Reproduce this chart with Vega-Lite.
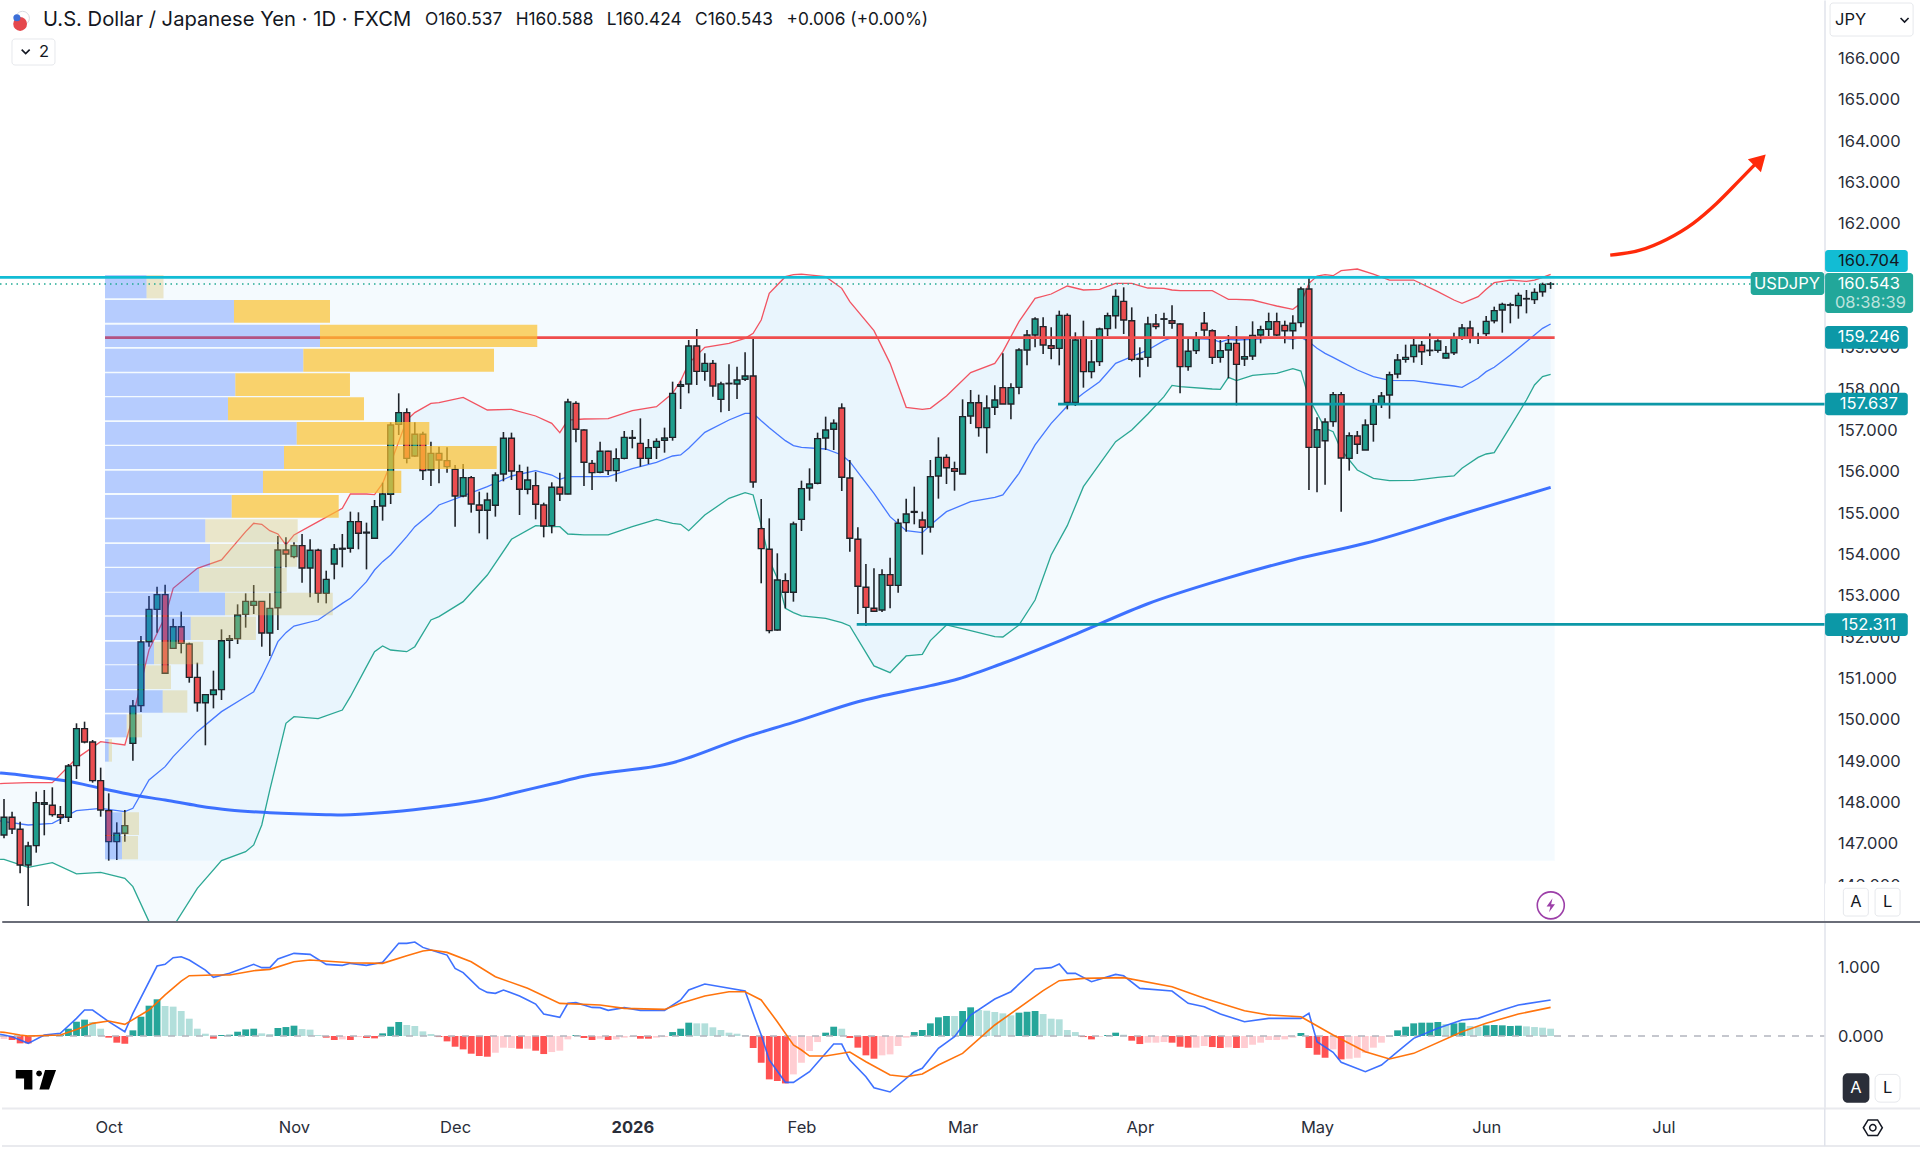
{
"$schema":"https://vega.github.io/schema/vega-lite/v6.json",
"padding":0,"background":"white","spacing":0,"bounds":"flush",
"config":{"font":"Inter","view":{"stroke":null}},
"datasets":{
"candles":[
{"i":0,"o":147.217,"h":148.088,"l":147.137,"c":147.645},{"i":1,"o":147.645,"h":147.782,"l":147.242,"c":147.363},{"i":2,"o":147.355,"h":147.54,"l":146.291,"c":146.492},{"i":3,"o":146.492,"h":147.056,"l":145.501,"c":146.952},{"i":4,"o":146.96,"h":148.265,"l":146.79,"c":147.999},{"i":5,"o":147.96,"h":148.306,"l":147.209,"c":148.0},{"i":6,"o":147.935,"h":148.37,"l":147.661,"c":147.709},{"i":7,"o":147.709,"h":147.919,"l":147.483,"c":147.645},{"i":8,"o":147.645,"h":148.934,"l":147.532,"c":148.886},{"i":9,"o":148.894,"h":149.918,"l":148.572,"c":149.789},
{"i":10,"o":149.789,"h":149.958,"l":149.434,"c":149.466},{"i":11,"o":149.466,"h":149.515,"l":148.483,"c":148.531},{"i":12,"o":148.531,"h":148.846,"l":147.661,"c":147.822},{"i":13,"o":147.806,"h":148.225,"l":146.597,"c":147.056},{"i":14,"o":147.056,"h":147.524,"l":146.613,"c":147.258},{"i":15,"o":147.258,"h":147.822,"l":147.056,"c":147.443},{"i":16,"o":149.434,"h":150.482,"l":149.015,"c":150.337},{"i":17,"o":150.345,"h":152.029,"l":150.192,"c":151.884},{"i":18,"o":151.892,"h":152.997,"l":151.771,"c":152.674},{"i":19,"o":152.674,"h":153.222,"l":152.11,"c":153.029},
{"i":20,"o":153.029,"h":153.271,"l":151.11,"c":151.127},{"i":21,"o":151.731,"h":152.448,"l":151.731,"c":152.255},{"i":22,"o":152.255,"h":152.618,"l":151.61,"c":151.852},{"i":23,"o":151.836,"h":151.868,"l":150.901,"c":151.03},{"i":24,"o":151.03,"h":151.385,"l":150.2,"c":150.417},{"i":25,"o":150.417,"h":150.627,"l":149.386,"c":150.611},{"i":26,"o":150.611,"h":151.191,"l":150.28,"c":150.724},{"i":27,"o":150.732,"h":152.191,"l":150.482,"c":151.916},{"i":28,"o":151.925,"h":152.054,"l":151.489,"c":151.965},{"i":29,"o":151.965,"h":152.795,"l":151.836,"c":152.537},
{"i":30,"o":152.553,"h":153.061,"l":152.231,"c":152.868},{"i":31,"o":152.771,"h":153.262,"l":152.561,"c":152.868},{"i":32,"o":152.868,"h":152.868,"l":151.771,"c":152.102},{"i":33,"o":152.102,"h":153.061,"l":151.546,"c":152.698},{"i":34,"o":152.714,"h":154.447,"l":152.174,"c":154.109},{"i":35,"o":154.11,"h":154.416,"l":153.69,"c":154.013},{"i":36,"o":153.949,"h":154.295,"l":153.908,"c":154.215},{"i":37,"o":154.215,"h":154.497,"l":153.319,"c":153.674},{"i":38,"o":153.674,"h":154.368,"l":152.964,"c":154.102},{"i":39,"o":154.102,"h":154.142,"l":152.835,"c":153.061},
{"i":40,"o":153.061,"h":153.609,"l":152.819,"c":153.4},{"i":41,"o":153.77,"h":154.255,"l":153.4,"c":154.134},{"i":42,"o":154.13,"h":154.497,"l":153.69,"c":154.15},{"i":43,"o":154.15,"h":155.037,"l":154.045,"c":154.795},{"i":44,"o":154.795,"h":155.021,"l":154.126,"c":154.513},{"i":45,"o":154.52,"h":154.771,"l":153.641,"c":154.54},{"i":46,"o":154.392,"h":155.319,"l":154.392,"c":155.158},{"i":47,"o":155.174,"h":155.738,"l":154.819,"c":155.464},{"i":48,"o":155.456,"h":157.197,"l":155.222,"c":157.132},{"i":49,"o":157.148,"h":157.898,"l":156.89,"c":157.431},
{"i":50,"o":157.431,"h":157.535,"l":156.205,"c":156.326},{"i":51,"o":156.383,"h":157.197,"l":156.367,"c":156.907},{"i":52,"o":156.907,"h":156.971,"l":155.802,"c":156.028},{"i":53,"o":156.044,"h":156.729,"l":155.657,"c":156.447},{"i":54,"o":156.447,"h":156.608,"l":155.722,"c":156.286},{"i":55,"o":156.27,"h":156.592,"l":155.98,"c":156.125},{"i":56,"o":156.06,"h":156.165,"l":154.674,"c":155.416},{"i":57,"o":155.416,"h":156.189,"l":155.383,"c":155.859},{"i":58,"o":155.859,"h":155.899,"l":155.013,"c":155.222},{"i":59,"o":155.198,"h":155.52,"l":154.513,"c":155.069},
{"i":60,"o":155.069,"h":155.496,"l":154.368,"c":155.319},{"i":61,"o":155.19,"h":155.988,"l":154.916,"c":155.923},{"i":62,"o":155.947,"h":156.963,"l":155.77,"c":156.81},{"i":63,"o":156.81,"h":156.947,"l":155.802,"c":156.02},{"i":64,"o":156.004,"h":156.173,"l":154.956,"c":155.577},{"i":65,"o":155.577,"h":156.125,"l":155.456,"c":155.802},{"i":66,"o":155.665,"h":155.996,"l":154.851,"c":155.214},{"i":67,"o":155.198,"h":155.254,"l":154.416,"c":154.69},{"i":68,"o":154.698,"h":155.746,"l":154.513,"c":155.625},{"i":69,"o":155.625,"h":155.98,"l":155.295,"c":155.464},
{"i":70,"o":155.464,"h":157.769,"l":155.456,"c":157.688},{"i":71,"o":157.656,"h":157.705,"l":156.713,"c":157.028},{"i":72,"o":157.011,"h":157.028,"l":155.657,"c":156.23},{"i":73,"o":156.205,"h":156.286,"l":155.561,"c":155.98},{"i":74,"o":155.988,"h":156.729,"l":155.964,"c":156.496},{"i":75,"o":156.496,"h":156.512,"l":155.923,"c":156.028},{"i":76,"o":156.028,"h":156.568,"l":155.762,"c":156.318},{"i":77,"o":156.326,"h":156.987,"l":156.302,"c":156.834},{"i":78,"o":156.81,"h":157.011,"l":156.568,"c":156.83},{"i":79,"o":156.689,"h":157.293,"l":156.125,"c":156.326},
{"i":80,"o":156.326,"h":156.794,"l":156.189,"c":156.584},{"i":81,"o":156.592,"h":156.81,"l":156.31,"c":156.737},{"i":82,"o":156.762,"h":157.068,"l":156.463,"c":156.818},{"i":83,"o":156.834,"h":158.18,"l":156.753,"c":157.898},{"i":84,"o":158.067,"h":158.204,"l":157.519,"c":158.107},{"i":85,"o":158.124,"h":159.188,"l":157.898,"c":159.043},{"i":86,"o":159.043,"h":159.454,"l":158.099,"c":158.43},{"i":87,"o":158.43,"h":158.865,"l":158.204,"c":158.623},{"i":88,"o":158.623,"h":158.704,"l":157.817,"c":158.075},{"i":89,"o":157.753,"h":158.18,"l":157.439,"c":158.124},
{"i":90,"o":158.13,"h":158.599,"l":157.471,"c":158.14},{"i":91,"o":158.124,"h":158.543,"l":157.761,"c":158.22},{"i":92,"o":158.237,"h":158.889,"l":158.196,"c":158.317},{"i":93,"o":158.317,"h":159.212,"l":155.617,"c":155.754},{"i":94,"o":154.626,"h":155.343,"l":153.304,"c":154.142},{"i":95,"o":154.126,"h":154.875,"l":152.095,"c":152.159},{"i":96,"o":152.175,"h":154.029,"l":152.159,"c":153.384},{"i":97,"o":153.368,"h":153.546,"l":152.699,"c":153.086},{"i":98,"o":153.086,"h":154.795,"l":152.86,"c":154.738},{"i":99,"o":154.851,"h":155.786,"l":154.569,"c":155.593},
{"i":100,"o":155.609,"h":156.084,"l":155.303,"c":155.706},{"i":101,"o":155.722,"h":156.947,"l":155.698,"c":156.802},{"i":102,"o":156.818,"h":157.334,"l":156.528,"c":157.011},{"i":103,"o":157.028,"h":157.269,"l":156.528,"c":157.173},{"i":104,"o":157.543,"h":157.656,"l":155.536,"c":155.867},{"i":105,"o":155.851,"h":156.286,"l":154.069,"c":154.392},{"i":106,"o":154.368,"h":154.658,"l":152.562,"c":153.231},{"i":107,"o":153.207,"h":153.771,"l":152.272,"c":152.723},{"i":108,"o":152.699,"h":153.666,"l":152.611,"c":152.627},{"i":109,"o":152.659,"h":153.642,"l":152.611,"c":153.513},
{"i":110,"o":153.513,"h":153.924,"l":152.699,"c":153.255},{"i":111,"o":153.255,"h":154.867,"l":153.078,"c":154.755},{"i":112,"o":154.771,"h":155.351,"l":154.553,"c":154.98},{"i":113,"o":155.02,"h":155.641,"l":154.73,"c":155.04},{"i":114,"o":154.835,"h":155.037,"l":153.997,"c":154.658},{"i":115,"o":154.666,"h":156.286,"l":154.529,"c":155.883},{"i":116,"o":155.899,"h":156.834,"l":155.351,"c":156.35},{"i":117,"o":156.35,"h":156.423,"l":155.706,"c":156.1},{"i":118,"o":156.076,"h":156.246,"l":155.544,"c":156.012},{"i":119,"o":155.947,"h":157.753,"l":155.947,"c":157.334},
{"i":120,"o":157.35,"h":157.979,"l":157.156,"c":157.672},{"i":121,"o":157.672,"h":157.866,"l":156.85,"c":157.068},{"i":122,"o":157.068,"h":157.85,"l":156.447,"c":157.543},{"i":123,"o":157.56,"h":158.091,"l":157.374,"c":157.737},{"i":124,"o":158.035,"h":158.865,"l":157.64,"c":157.64},{"i":125,"o":157.64,"h":158.14,"l":157.269,"c":158.035},{"i":126,"o":158.043,"h":158.986,"l":157.874,"c":158.946},{"i":127,"o":158.946,"h":159.429,"l":158.575,"c":159.308},{"i":128,"o":159.308,"h":159.736,"l":159.01,"c":159.695},{"i":129,"o":159.51,"h":159.736,"l":158.849,"c":159.067},
{"i":130,"o":159.05,"h":159.494,"l":158.72,"c":158.986},{"i":131,"o":158.986,"h":159.897,"l":158.575,"c":159.784},{"i":132,"o":159.784,"h":159.832,"l":157.511,"c":157.68},{"i":133,"o":157.68,"h":159.373,"l":157.592,"c":159.188},{"i":134,"o":159.252,"h":159.655,"l":158.035,"c":158.422},{"i":135,"o":158.422,"h":159.188,"l":158.261,"c":158.656},{"i":136,"o":158.664,"h":159.486,"l":158.559,"c":159.454},{"i":137,"o":159.462,"h":159.849,"l":159.284,"c":159.776},{"i":138,"o":159.776,"h":160.413,"l":159.462,"c":160.243},{"i":139,"o":160.122,"h":160.461,"l":159.333,"c":159.671},
{"i":140,"o":159.655,"h":159.977,"l":158.672,"c":158.72},{"i":141,"o":158.744,"h":159.01,"l":158.285,"c":158.72},{"i":142,"o":158.768,"h":159.752,"l":158.543,"c":159.574},{"i":143,"o":159.574,"h":159.816,"l":159.446,"c":159.51},{"i":144,"o":159.69,"h":159.849,"l":159.284,"c":159.7},{"i":145,"o":159.655,"h":160.026,"l":159.462,"c":159.591},{"i":146,"o":159.574,"h":159.591,"l":157.898,"c":158.543},{"i":147,"o":158.543,"h":159.228,"l":158.446,"c":158.914},{"i":148,"o":158.93,"h":159.381,"l":158.849,"c":159.228},{"i":149,"o":159.591,"h":159.865,"l":159.284,"c":159.429},
{"i":150,"o":159.413,"h":159.446,"l":158.607,"c":158.768},{"i":151,"o":158.768,"h":159.188,"l":158.64,"c":158.93},{"i":152,"o":158.946,"h":159.308,"l":158.261,"c":159.107},{"i":153,"o":159.107,"h":159.526,"l":157.608,"c":158.599},{"i":154,"o":158.728,"h":159.252,"l":158.559,"c":158.785},{"i":155,"o":158.801,"h":159.639,"l":158.704,"c":159.3},{"i":156,"o":159.308,"h":159.534,"l":159.107,"c":159.437},{"i":157,"o":159.446,"h":159.849,"l":159.284,"c":159.631},{"i":158,"o":159.631,"h":159.849,"l":159.284,"c":159.308},{"i":159,"o":159.542,"h":159.655,"l":159.107,"c":159.413},
{"i":160,"o":159.413,"h":159.784,"l":158.962,"c":159.591},{"i":161,"o":159.607,"h":160.477,"l":159.494,"c":160.421},{"i":162,"o":160.421,"h":160.679,"l":155.561,"c":156.592},{"i":163,"o":156.592,"h":157.318,"l":155.504,"c":157.019},{"i":164,"o":156.753,"h":157.293,"l":155.69,"c":157.205},{"i":165,"o":157.213,"h":157.93,"l":157.092,"c":157.866},{"i":166,"o":157.866,"h":157.93,"l":155.037,"c":156.334},{"i":167,"o":156.326,"h":156.955,"l":156.028,"c":156.874},{"i":168,"o":156.866,"h":156.987,"l":156.431,"c":156.665},{"i":169,"o":156.528,"h":157.269,"l":156.528,"c":157.132},
{"i":170,"o":157.148,"h":157.761,"l":156.729,"c":157.616},{"i":171,"o":157.64,"h":157.93,"l":157.543,"c":157.834},{"i":172,"o":157.858,"h":158.422,"l":157.285,"c":158.349},{"i":173,"o":158.365,"h":158.849,"l":158.261,"c":158.704},{"i":174,"o":158.72,"h":159.075,"l":158.64,"c":158.768},{"i":175,"o":158.785,"h":159.228,"l":158.64,"c":159.059},{"i":176,"o":159.059,"h":159.163,"l":158.583,"c":158.905},{"i":177,"o":158.93,"h":159.349,"l":158.801,"c":158.94},{"i":178,"o":158.938,"h":159.204,"l":158.881,"c":159.163},{"i":179,"o":158.752,"h":159.042,"l":158.736,"c":158.865},
{"i":180,"o":158.881,"h":159.365,"l":158.825,"c":159.244},{"i":181,"o":159.252,"h":159.574,"l":159.188,"c":159.478},{"i":182,"o":159.478,"h":159.655,"l":159.107,"c":159.228},{"i":183,"o":159.24,"h":159.365,"l":159.091,"c":159.25},{"i":184,"o":159.341,"h":159.768,"l":159.284,"c":159.639},{"i":185,"o":159.655,"h":159.994,"l":159.591,"c":159.897},{"i":186,"o":159.913,"h":160.09,"l":159.365,"c":160.05},{"i":187,"o":160.03,"h":160.09,"l":159.591,"c":160.04},{"i":188,"o":160.018,"h":160.332,"l":159.703,"c":160.268},{"i":189,"o":160.18,"h":160.397,"l":159.832,"c":160.19},
{"i":190,"o":160.163,"h":160.437,"l":160.058,"c":160.34},{"i":191,"o":160.356,"h":160.574,"l":160.235,"c":160.534},{"i":192,"o":160.537,"h":160.588,"l":160.424,"c":160.543}
],
"bands":[
{"i":-0.49,"u":148.46,"b":147.56,"d":146.63},{"i":0,"u":148.467,"b":147.54,"d":146.629},{"i":3,"u":148.483,"b":147.459,"d":146.436},{"i":6,"u":148.483,"b":147.499,"d":146.548},{"i":9,"u":149.071,"b":147.806,"d":146.275},{"i":12,"u":149.474,"b":147.862,"d":146.315},{"i":15,"u":149.394,"b":147.782,"d":146.17},{"i":16,"u":150.079,"b":147.862,"d":145.968},{"i":18,"u":151.691,"b":148.547,"d":145.122},{"i":20,"u":152.497,"b":148.87,"d":144.52},{"i":21,"u":153.182,"b":149.112,"d":145.0},{"i":24,"u":153.665,"b":149.716,"d":145.928},{"i":27,"u":153.868,"b":150.2,"d":146.597},{"i":30,"u":154.553,"b":150.562,"d":146.815},{"i":31,"u":154.755,"b":150.683,"d":146.976},{"i":32,"u":154.73,"b":151.046,"d":147.459},{"i":33,"u":154.577,"b":151.449,"d":148.306},{"i":34,"u":154.497,"b":151.892,"d":149.112},{"i":35,"u":154.231,"b":152.11,"d":149.918},{"i":36,"u":154.473,"b":152.271,"d":150.079},{"i":39,"u":154.795,"b":152.416,"d":150.03},{"i":42,"u":155.117,"b":152.819,"d":150.24},{"i":43,"u":155.464,"b":152.94,"d":150.562},{"i":45,"u":155.464,"b":153.343,"d":151.288},{"i":46,"u":155.448,"b":153.625,"d":151.65},{"i":47,"u":155.72,"b":153.827,"d":151.788},{"i":48,"u":156.205,"b":153.989,"d":151.691},{"i":50,"u":157.253,"b":154.432,"d":151.65},{"i":51,"u":157.431,"b":154.674,"d":151.771},{"i":53,"u":157.656,"b":155.0,"d":152.416},{"i":54,"u":157.672,"b":155.198,"d":152.497},{"i":57,"u":157.801,"b":155.416,"d":152.86},{"i":60,"u":157.495,"b":155.641,"d":153.504},
{"i":63,"u":157.511,"b":155.899,"d":154.368},{"i":66,"u":157.35,"b":156.028,"d":154.698},{"i":68,"u":157.173,"b":155.923,"d":154.674},{"i":69,"u":156.947,"b":155.818,"d":154.674},{"i":70,"u":157.253,"b":155.883,"d":154.496},{"i":72,"u":157.277,"b":155.883,"d":154.473},{"i":75,"u":157.285,"b":155.883,"d":154.473},{"i":78,"u":157.479,"b":156.076,"d":154.674},{"i":81,"u":157.576,"b":156.23,"d":154.851},{"i":83,"u":157.898,"b":156.383,"d":154.755},{"i":84,"u":158.204,"b":156.407,"d":154.73},{"i":85,"u":158.623,"b":156.568,"d":154.577},{"i":87,"u":159.01,"b":156.955,"d":154.956},{"i":90,"u":159.107,"b":157.253,"d":155.359},{"i":92,"u":159.228,"b":157.414,"d":155.496},{"i":93,"u":159.349,"b":157.414,"d":155.44},{"i":94,"u":159.671,"b":157.237,"d":154.714},{"i":95,"u":160.316,"b":157.068,"d":153.868},{"i":96,"u":160.517,"b":156.907,"d":153.425},{"i":97,"u":160.719,"b":156.754,"d":152.699},{"i":98,"u":160.767,"b":156.633,"d":152.595},{"i":99,"u":160.783,"b":156.592,"d":152.514},{"i":102,"u":160.719,"b":156.552,"d":152.458},{"i":104,"u":160.437,"b":156.407,"d":152.353},{"i":105,"u":160.115,"b":156.246,"d":152.272},{"i":108,"u":159.413,"b":155.48,"d":151.305},{"i":110,"u":158.623,"b":154.916,"d":151.144},{"i":112,"u":157.56,"b":154.577,"d":151.547},{"i":114,"u":157.511,"b":154.529,"d":151.587},{"i":115,"u":157.535,"b":154.714,"d":151.918},{"i":117,"u":157.834,"b":155.037,"d":152.296},{"i":120,"u":158.398,"b":155.279,"d":152.159},{"i":123,"u":158.623,"b":155.383,"d":152.014},
{"i":124,"u":158.906,"b":155.44,"d":152.006},{"i":126,"u":159.631,"b":155.964,"d":152.296},{"i":128,"u":160.195,"b":156.649,"d":152.9},{"i":130,"u":160.3,"b":157.173,"d":153.989},{"i":132,"u":160.493,"b":157.592,"d":154.698},{"i":134,"u":160.397,"b":157.898,"d":155.641},{"i":136,"u":160.413,"b":158.18,"d":156.189},{"i":138,"u":160.558,"b":158.623,"d":156.729},{"i":140,"u":160.558,"b":158.785,"d":157.011},{"i":142,"u":160.445,"b":158.946,"d":157.398},{"i":144,"u":160.437,"b":159.172,"d":157.817},{"i":145,"u":160.397,"b":159.244,"d":158.091},{"i":146,"u":160.38,"b":159.236,"d":158.059},{"i":150,"u":160.38,"b":159.204,"d":158.003},{"i":151,"u":160.276,"b":159.139,"d":157.995},{"i":152,"u":160.171,"b":159.204,"d":158.285},{"i":153,"u":160.171,"b":159.188,"d":158.204},{"i":155,"u":160.155,"b":159.204,"d":158.333},{"i":158,"u":160.01,"b":159.244,"d":158.382},{"i":160,"u":159.929,"b":159.204,"d":158.494},{"i":161,"u":160.074,"b":159.252,"d":158.438},{"i":162,"u":160.558,"b":159.147,"d":157.777},{"i":163,"u":160.735,"b":158.986,"d":157.414},{"i":164,"u":160.767,"b":158.865,"d":157.052},{"i":165,"u":160.743,"b":158.768,"d":156.971},{"i":166,"u":160.864,"b":158.664,"d":156.528},{"i":168,"u":160.904,"b":158.462,"d":156.044},{"i":170,"u":160.783,"b":158.301,"d":155.843},{"i":172,"u":160.638,"b":158.212,"d":155.786},{"i":175,"u":160.638,"b":158.204,"d":155.794},{"i":178,"u":160.356,"b":158.124,"d":155.867},{"i":180,"u":160.155,"b":158.075,"d":155.899},{"i":181,"u":160.074,"b":158.043,"d":156.085},{"i":183,"u":160.235,"b":158.261,"d":156.35},{"i":184,"u":160.413,"b":158.422,"d":156.431},{"i":185,"u":160.574,"b":158.527,"d":156.463},{"i":187,"u":160.638,"b":158.825,"d":157.092},{"i":189,"u":160.606,"b":159.147,"d":157.737},{"i":190,"u":160.638,"b":159.308,"d":158.1},{"i":191,"u":160.703,"b":159.47,"d":158.301},{"i":192,"u":160.775,"b":159.574,"d":158.357}
],
"ema":[
{"i":-0.49,"p":148.715},{"i":0,"p":148.708},{"i":4,"p":148.62},{"i":8,"p":148.515},{"i":12,"p":148.346},{"i":16,"p":148.185},{"i":20,"p":148.064},{"i":24,"p":147.927},{"i":28,"p":147.822},{"i":33,"p":147.758},{"i":40,"p":147.709},{"i":42,"p":147.701},{"i":48,"p":147.774},{"i":54,"p":147.903},{"i":60,"p":148.08},{"i":63,"p":148.22},{"i":68,"p":148.45},{"i":72,"p":148.637},{"i":83,"p":148.963},{"i":92,"p":149.585},{"i":98,"p":149.94},{"i":106,"p":150.44},{"i":115,"p":150.83},{"i":118,"p":150.966},{"i":124,"p":151.37},{"i":133,"p":152.07},{"i":142,"p":152.81},{"i":151,"p":153.38},{"i":160,"p":153.868},{"i":169,"p":154.271},{"i":181,"p":154.98},{"i":192,"p":155.625}
],
"vp":[
{"i":12.54,"top":160.759,"bot":160.195,"buy":17.7,"sell":19.8,"zone":"out"},{"i":12.54,"top":160.155,"bot":159.607,"buy":28.55,"sell":40.47,"zone":"va"},{"i":12.54,"top":159.558,"bot":159.018,"buy":39.23,"sell":66.2,"zone":"va"},{"i":12.54,"top":158.978,"bot":158.422,"buy":37.16,"sell":60.83,"zone":"va"},{"i":12.54,"top":158.382,"bot":157.833,"buy":28.72,"sell":42.95,"zone":"va"},{"i":12.54,"top":157.801,"bot":157.245,"buy":27.81,"sell":44.69,"zone":"va"},{"i":12.54,"top":157.205,"bot":156.657,"buy":36.34,"sell":52.8,"zone":"va"},{"i":12.54,"top":156.625,"bot":156.068,"buy":34.76,"sell":61.17,"zone":"va"},{"i":12.54,"top":156.028,"bot":155.488,"buy":32.15,"sell":49.32,"zone":"va"},{"i":12.54,"top":155.44,"bot":154.892,"buy":28.27,"sell":41.55,"zone":"va"},
{"i":12.54,"top":154.851,"bot":154.295,"buy":24.99,"sell":36.46,"zone":"out"},{"i":12.54,"top":154.255,"bot":153.707,"buy":25.57,"sell":36.37,"zone":"out"},{"i":12.54,"top":153.674,"bot":153.101,"buy":24.21,"sell":35.1,"zone":"out"},{"i":12.54,"top":153.077,"bot":152.529,"buy":27.44,"sell":40.81,"zone":"out"},{"i":12.54,"top":152.497,"bot":151.933,"buy":23.18,"sell":31.28,"zone":"out"},{"i":12.54,"top":151.892,"bot":151.344,"buy":18.62,"sell":24.74,"zone":"out"},{"i":12.54,"top":151.32,"bot":150.748,"buy":17.5,"sell":20.73,"zone":"out"},{"i":12.54,"top":150.716,"bot":150.176,"buy":19.7,"sell":22.76,"zone":"out"},{"i":12.54,"top":150.135,"bot":149.579,"buy":15.23,"sell":17.13,"zone":"out"},{"i":12.54,"top":149.539,"bot":148.991,"buy":13.0,"sell":13.41,"zone":"out"},{"i":12.54,"top":147.766,"bot":147.218,"buy":14.65,"sell":16.76,"zone":"out"},{"i":12.54,"top":147.193,"bot":146.629,"buy":14.65,"sell":16.64,"zone":"out"}
],
"levels":[
{"name":"poc","i":12.54,"to":192.5,"p":159.246},
{"name":"top","i":-0.497,"to":226,"p":160.704},
{"name":"last","i":-0.497,"to":216.8,"p":160.543},
{"name":"s1","i":130.85,"to":226,"p":157.637},
{"name":"s2","i":105.86,"to":226,"p":152.311},
{"name":"sep","i":-0.22,"to":237.9,"p":145.113}
],
"arrow":[
{"i":199.4,"p":161.24},{"i":203.1,"p":161.36},{"i":206.4,"p":161.62},{"i":209.7,"p":162.01},{"i":212.6,"p":162.49},{"i":215.5,"p":163.06},{"i":217.8,"p":163.52}
],
"boxes":[
{"kind":"cover","i":226.07,"to":237.9,"p":146.08,"p2":145.089},
{"kind":"cyan","i":226.07,"to":236.34,"p":161.364,"p2":160.832},
{"kind":"green","i":216.84,"to":225.97,"p":160.832,"p2":160.276},
{"kind":"green","i":226.07,"to":237,"p":160.808,"p2":159.84},
{"kind":"teal","i":226.07,"to":236.34,"p":159.526,"p2":158.977},
{"kind":"teal","i":226.07,"to":236.34,"p":157.913,"p2":157.367},
{"kind":"teal","i":226.07,"to":236.34,"p":152.578,"p2":152.029},
{"kind":"btn","i":226.69,"to":237,"p":167.337,"p2":166.539},
{"kind":"btn","i":0.99,"to":6.33,"p":166.467,"p2":165.838},
{"kind":"btn","i":228.34,"to":231.44,"p":145.928,"p2":145.258},
{"kind":"btn","i":232.28,"to":235.38,"p":145.928,"p2":145.258}
],
"boxtext":[
{"i":231.5,"p":161.098,"label":"160.704","kind":"dark"},
{"i":221.35,"p":160.542,"label":"USDJPY","kind":"white"},
{"i":231.5,"p":160.542,"label":"160.543","kind":"white"},
{"i":231.7,"p":160.094,"label":"08:38:39","kind":"pale"},
{"i":231.5,"p":159.26,"label":"159.246","kind":"white"},
{"i":231.5,"p":157.64,"label":"157.637","kind":"white"},
{"i":231.5,"p":152.307,"label":"152.311","kind":"white"},
{"i":229.89,"p":145.589,"label":"A","kind":"dark"},
{"i":233.83,"p":145.589,"label":"L","kind":"dark"},
{"i":4.97,"p":166.15,"label":"2","kind":"dark"}
],
"macd":[
{"i":-0.49,"v":0.025},{"i":0,"v":0.015},{"i":1,"v":-0.01},{"i":3,"v":-0.107},{"i":5,"v":0.015},{"i":7,"v":0.039},{"i":9,"v":0.258},{"i":10,"v":0.38},{"i":11,"v":0.38},{"i":13,"v":0.209},{"i":15,"v":0.063},{"i":16,"v":0.331},{"i":19,"v":1.022},{"i":20,"v":1.046},{"i":21,"v":1.144},{"i":22,"v":1.158},{"i":23,"v":1.109},{"i":25,"v":0.963},{"i":26,"v":0.856},{"i":28,"v":0.915},{"i":31,"v":1.046},{"i":32,"v":0.998},{"i":33,"v":0.998},{"i":34,"v":1.124},{"i":36,"v":1.207},{"i":38,"v":1.192},{"i":40,"v":1.046},{"i":42,"v":1.032},{"i":43,"v":1.061},{"i":45,"v":1.032},{"i":47,"v":1.075},{"i":49,"v":1.353},{"i":50,"v":1.353},{"i":51,"v":1.372},{"i":52,"v":1.294},{"i":53,"v":1.255},{"i":55,"v":1.182},{"i":56,"v":0.988},{"i":57,"v":0.925},{"i":59,"v":0.696},{"i":60,"v":0.637},{"i":61,"v":0.623},{"i":62,"v":0.672},{"i":64,"v":0.584},{"i":65,"v":0.526},{"i":66,"v":0.467},{"i":67,"v":0.321},{"i":69,"v":0.272},{"i":70,"v":0.477},{"i":71,"v":0.487},{"i":73,"v":0.418},{"i":74,"v":0.414},{"i":75,"v":0.375},{"i":77,"v":0.414},{"i":79,"v":0.375},{"i":82,"v":0.375},{"i":84,"v":0.526},{"i":85,"v":0.672},{"i":87,"v":0.759},{"i":92,"v":0.657},{"i":93,"v":0.331},{"i":94,"v":0.015},{"i":95,"v":-0.35},{"i":97,"v":-0.676},{"i":98,"v":-0.676},{"i":100,"v":-0.521},{"i":103,"v":-0.117},{"i":104,"v":-0.117},{"i":105,"v":-0.35},{"i":107,"v":-0.594},{"i":108,"v":-0.754},{"i":110,"v":-0.817},{"i":113,"v":-0.521},{"i":114,"v":-0.472},{"i":116,"v":-0.18},{"i":118,"v":-0.01},{"i":120,"v":0.307},{"i":123,"v":0.54},{"i":125,"v":0.647},{"i":128,"v":0.978},{"i":130,"v":0.998},{"i":131,"v":1.051},{"i":132,"v":0.915},{"i":133,"v":0.915},{"i":135,"v":0.793},{"i":138,"v":0.9},{"i":139,"v":0.88},{"i":141,"v":0.696},{"i":145,"v":0.657},{"i":147,"v":0.477},{"i":149,"v":0.428},{"i":151,"v":0.321},{"i":154,"v":0.209},{"i":157,"v":0.258},{"i":161,"v":0.258},{"i":162,"v":0.331},{"i":163,"v":-0.083},{"i":165,"v":-0.238},{"i":166,"v":-0.384},{"i":169,"v":-0.521},{"i":171,"v":-0.423},{"i":173,"v":-0.229},{"i":175,"v":-0.034},{"i":178,"v":0.112},{"i":181,"v":0.234},{"i":183,"v":0.258},{"i":186,"v":0.38},{"i":188,"v":0.453},{"i":192,"v":0.526}
],
"signal":[
{"i":-0.49,"v":0.058},{"i":0,"v":0.054},{"i":2,"v":0.015},{"i":3,"v":0.0},{"i":7,"v":0.015},{"i":9,"v":0.097},{"i":11,"v":0.185},{"i":13,"v":0.219},{"i":15,"v":0.17},{"i":18,"v":0.38},{"i":20,"v":0.6},{"i":22,"v":0.803},{"i":23,"v":0.881},{"i":26,"v":0.89},{"i":28,"v":0.89},{"i":31,"v":0.954},{"i":33,"v":0.973},{"i":36,"v":1.085},{"i":38,"v":1.109},{"i":43,"v":1.07},{"i":47,"v":1.061},{"i":50,"v":1.173},{"i":52,"v":1.241},{"i":53,"v":1.255},{"i":55,"v":1.221},{"i":58,"v":1.085},{"i":61,"v":0.866},{"i":65,"v":0.696},{"i":69,"v":0.477},{"i":74,"v":0.453},{"i":77,"v":0.404},{"i":82,"v":0.389},{"i":84,"v":0.477},{"i":87,"v":0.584},{"i":90,"v":0.647},{"i":92,"v":0.647},{"i":94,"v":0.526},{"i":96,"v":0.209},{"i":98,"v":-0.131},{"i":99,"v":-0.204},{"i":100,"v":-0.292},{"i":102,"v":-0.292},{"i":105,"v":-0.234},{"i":107,"v":-0.375},{"i":110,"v":-0.569},{"i":112,"v":-0.594},{"i":114,"v":-0.555},{"i":116,"v":-0.423},{"i":119,"v":-0.253},{"i":123,"v":0.161},{"i":129,"v":0.662},{"i":131,"v":0.808},{"i":134,"v":0.842},{"i":139,"v":0.852},{"i":145,"v":0.72},{"i":149,"v":0.55},{"i":154,"v":0.37},{"i":157,"v":0.307},{"i":161,"v":0.282},{"i":165,"v":0.015},{"i":169,"v":-0.229},{"i":172,"v":-0.336},{"i":175,"v":-0.253},{"i":181,"v":0.063},{"i":184,"v":0.185},{"i":188,"v":0.321},{"i":192,"v":0.418}
],
"hist":[
{"i":0,"v":-0.044,"s":"rp"},{"i":1,"v":-0.058,"s":"r"},{"i":2,"v":-0.107,"s":"r"},{"i":3,"v":-0.107,"s":"r"},{"i":4,"v":-0.015,"s":"rp"},{"i":5,"v":-0.01,"s":"rp"},{"i":6,"v":0.01,"s":"g"},{"i":7,"v":0.019,"s":"g"},{"i":8,"v":0.107,"s":"g"},{"i":9,"v":0.209,"s":"g"},{"i":10,"v":0.239,"s":"g"},{"i":11,"v":0.205,"s":"gp"},{"i":12,"v":0.107,"s":"gp"},{"i":13,"v":-0.024,"s":"r"},{"i":14,"v":-0.097,"s":"r"},{"i":15,"v":-0.112,"s":"r"},{"i":16,"v":0.083,"s":"g"},{"i":17,"v":0.282,"s":"g"},{"i":18,"v":0.443,"s":"g"},{"i":19,"v":0.536,"s":"g"},{"i":20,"v":0.438,"s":"gp"},{"i":21,"v":0.429,"s":"gp"},{"i":22,"v":0.365,"s":"gp"},{"i":23,"v":0.253,"s":"gp"},{"i":24,"v":0.107,"s":"gp"},{"i":25,"v":0.034,"s":"gp"},{"i":26,"v":-0.039,"s":"r"},{"i":27,"v":0.015,"s":"g"},{"i":28,"v":0.019,"s":"g"},{"i":29,"v":0.063,"s":"g"},{"i":30,"v":0.097,"s":"g"},{"i":31,"v":0.107,"s":"g"},{"i":32,"v":0.039,"s":"gp"},{"i":33,"v":0.029,"s":"gp"},{"i":34,"v":0.117,"s":"g"},{"i":35,"v":0.131,"s":"g"},{"i":36,"v":0.151,"s":"g"},{"i":37,"v":0.102,"s":"gp"},{"i":38,"v":0.093,"s":"gp"},{"i":39,"v":0.015,"s":"gp"},{"i":40,"v":-0.024,"s":"r"},{"i":41,"v":-0.058,"s":"r"},{"i":42,"v":-0.049,"s":"rp"},{"i":43,"v":-0.058,"s":"r"},{"i":44,"v":-0.015,"s":"rp"},{"i":45,"v":-0.029,"s":"r"},{"i":46,"v":-0.034,"s":"r"},{"i":47,"v":0.039,"s":"g"},{"i":48,"v":0.136,"s":"g"},{"i":49,"v":0.205,"s":"g"},{"i":50,"v":0.161,"s":"gp"},{"i":51,"v":0.146,"s":"gp"},{"i":52,"v":0.068,"s":"gp"},{"i":53,"v":0.029,"s":"gp"},{"i":54,"v":-0.015,"s":"r"},{"i":55,"v":-0.078,"s":"r"},{"i":56,"v":-0.156,"s":"r"},{"i":57,"v":-0.195,"s":"r"},{"i":58,"v":-0.258,"s":"r"},{"i":59,"v":-0.292,"s":"r"},{"i":60,"v":-0.302,"s":"r"},{"i":61,"v":-0.244,"s":"rp"},{"i":62,"v":-0.17,"s":"rp"},{"i":63,"v":-0.175,"s":"rp"},{"i":64,"v":-0.185,"s":"r"},{"i":65,"v":-0.185,"s":"rp"},{"i":66,"v":-0.214,"s":"r"},{"i":67,"v":-0.263,"s":"r"},{"i":68,"v":-0.234,"s":"rp"},{"i":69,"v":-0.214,"s":"rp"},{"i":70,"v":-0.049,"s":"rp"},{"i":71,"v":0.015,"s":"g"},{"i":72,"v":-0.029,"s":"r"},{"i":73,"v":-0.058,"s":"r"},{"i":74,"v":-0.039,"s":"rp"},{"i":75,"v":-0.058,"s":"r"},{"i":76,"v":-0.049,"s":"rp"},{"i":77,"v":-0.024,"s":"rp"},{"i":78,"v":-0.015,"s":"rp"},{"i":79,"v":-0.039,"s":"r"},{"i":80,"v":-0.039,"s":"r"},{"i":81,"v":-0.024,"s":"rp"},{"i":82,"v":-0.015,"s":"rp"},{"i":83,"v":0.058,"s":"g"},{"i":84,"v":0.107,"s":"g"},{"i":85,"v":0.195,"s":"g"},{"i":86,"v":0.185,"s":"gp"},{"i":87,"v":0.185,"s":"gp"},{"i":88,"v":0.127,"s":"gp"},{"i":89,"v":0.088,"s":"gp"},{"i":90,"v":0.049,"s":"gp"},{"i":91,"v":0.034,"s":"gp"},{"i":92,"v":0.01,"s":"gp"},{"i":93,"v":-0.175,"s":"r"},{"i":94,"v":-0.39,"s":"r"},{"i":95,"v":-0.633,"s":"r"},{"i":96,"v":-0.657,"s":"r"},{"i":97,"v":-0.692,"s":"r"},{"i":98,"v":-0.56,"s":"rp"},{"i":99,"v":-0.39,"s":"rp"},{"i":100,"v":-0.219,"s":"rp"},{"i":101,"v":-0.088,"s":"rp"},{"i":102,"v":0.049,"s":"g"},{"i":103,"v":0.136,"s":"g"},{"i":104,"v":0.107,"s":"gp"},{"i":105,"v":-0.029,"s":"r"},{"i":106,"v":-0.17,"s":"r"},{"i":107,"v":-0.282,"s":"r"},{"i":108,"v":-0.331,"s":"r"},{"i":109,"v":-0.282,"s":"rp"},{"i":110,"v":-0.268,"s":"rp"},{"i":111,"v":-0.146,"s":"rp"},{"i":112,"v":-0.024,"s":"rp"},{"i":113,"v":0.058,"s":"g"},{"i":114,"v":0.088,"s":"g"},{"i":115,"v":0.185,"s":"g"},{"i":116,"v":0.273,"s":"g"},{"i":117,"v":0.292,"s":"g"},{"i":118,"v":0.292,"s":"gp"},{"i":119,"v":0.365,"s":"g"},{"i":120,"v":0.419,"s":"g"},{"i":121,"v":0.38,"s":"gp"},{"i":122,"v":0.37,"s":"gp"},{"i":123,"v":0.351,"s":"gp"},{"i":124,"v":0.331,"s":"gp"},{"i":125,"v":0.302,"s":"gp"},{"i":126,"v":0.341,"s":"g"},{"i":127,"v":0.356,"s":"g"},{"i":128,"v":0.365,"s":"g"},{"i":129,"v":0.321,"s":"gp"},{"i":130,"v":0.253,"s":"gp"},{"i":131,"v":0.244,"s":"gp"},{"i":132,"v":0.088,"s":"gp"},{"i":133,"v":0.058,"s":"gp"},{"i":134,"v":-0.015,"s":"r"},{"i":135,"v":-0.049,"s":"r"},{"i":136,"v":-0.01,"s":"rp"},{"i":137,"v":0.015,"s":"g"},{"i":138,"v":0.049,"s":"g"},{"i":139,"v":0.019,"s":"gp"},{"i":140,"v":-0.068,"s":"r"},{"i":141,"v":-0.117,"s":"r"},{"i":142,"v":-0.097,"s":"rp"},{"i":143,"v":-0.097,"s":"rp"},{"i":144,"v":-0.088,"s":"rp"},{"i":145,"v":-0.097,"s":"r"},{"i":146,"v":-0.156,"s":"r"},{"i":147,"v":-0.17,"s":"r"},{"i":148,"v":-0.17,"s":"rp"},{"i":149,"v":-0.146,"s":"rp"},{"i":150,"v":-0.161,"s":"r"},{"i":151,"v":-0.175,"s":"r"},{"i":152,"v":-0.166,"s":"rp"},{"i":153,"v":-0.175,"s":"r"},{"i":154,"v":-0.175,"s":"rp"},{"i":155,"v":-0.127,"s":"rp"},{"i":156,"v":-0.097,"s":"rp"},{"i":157,"v":-0.058,"s":"rp"},{"i":158,"v":-0.058,"s":"rp"},{"i":159,"v":-0.049,"s":"rp"},{"i":160,"v":-0.024,"s":"rp"},{"i":161,"v":0.044,"s":"g"},{"i":162,"v":-0.175,"s":"r"},{"i":163,"v":-0.273,"s":"r"},{"i":164,"v":-0.317,"s":"r"},{"i":165,"v":-0.195,"s":"rp"},{"i":166,"v":-0.341,"s":"r"},{"i":167,"v":-0.331,"s":"rp"},{"i":168,"v":-0.317,"s":"rp"},{"i":169,"v":-0.244,"s":"rp"},{"i":170,"v":-0.17,"s":"rp"},{"i":171,"v":-0.097,"s":"rp"},{"i":172,"v":-0.01,"s":"rp"},{"i":173,"v":0.083,"s":"g"},{"i":174,"v":0.136,"s":"g"},{"i":175,"v":0.185,"s":"g"},{"i":176,"v":0.195,"s":"g"},{"i":177,"v":0.195,"s":"g"},{"i":178,"v":0.205,"s":"g"},{"i":179,"v":0.175,"s":"gp"},{"i":180,"v":0.185,"s":"g"},{"i":181,"v":0.195,"s":"g"},{"i":182,"v":0.146,"s":"gp"},{"i":183,"v":0.136,"s":"gp"},{"i":184,"v":0.156,"s":"g"},{"i":185,"v":0.161,"s":"g"},{"i":186,"v":0.156,"s":"g"},{"i":187,"v":0.146,"s":"g"},{"i":188,"v":0.151,"s":"g"},{"i":189,"v":0.141,"s":"gp"},{"i":190,"v":0.131,"s":"gp"},{"i":191,"v":0.122,"s":"gp"},{"i":192,"v":0.107,"s":"gp"}
]
},
"vconcat":[
{
"width":1824.5,"height":923,
"resolve":{"axis":{"x":"independent","y":"independent"}},
"encoding":{
"x":{"field":"i","type":"quantitative","scale":{"domain":[-0.497,226],"nice":false,"zero":false,"padding":0},"axis":null},
"y":{"field":"p","type":"quantitative","scale":{"domain":[145.089,167.41],"nice":false,"zero":false},"axis":null}
},
"layer":[
{"data":{"values":[{"i":12.54,"to":192.5,"p":160.76,"p2":146.597}]},
"mark":{"type":"rect","fill":"#2196F3","opacity":0.05},
"encoding":{"x2":{"field":"to"},
"y":{"field":"p","type":"quantitative","scale":{"domain":[145.089,167.41],"nice":false,"zero":false},
"axis":{"orient":"right","title":null,"values":[146,147,148,149,150,151,152,153,154,155,156,157,158,159,162,163,164,165,166],"format":".3f","grid":false,"ticks":false,"labelOverlap":false,"labelBound":false,"labelFontSize":16.5,"labelColor":"#2a2e39","labelPadding":13,"domainColor":"#E0E3EB","domainWidth":1.5,"labelAlign":"left"}},
"y2":{"field":"p2"}}},
{"data":{"name":"bands"},"mark":{"type":"area","fill":"#2196F3","opacity":0.05,"clip":true},
"encoding":{"y":{"field":"u","type":"quantitative","scale":{"domain":[145.089,167.41],"nice":false,"zero":false},"axis":null},"y2":{"field":"d"}}},
{"data":{"name":"bands"},"mark":{"type":"line","color":"#F23645","strokeWidth":1.3,"opacity":0.85,"clip":true},
"encoding":{"y":{"field":"u","type":"quantitative","scale":{"domain":[145.089,167.41],"nice":false,"zero":false},"axis":null}}},
{"data":{"name":"bands"},"mark":{"type":"line","color":"#2962FF","strokeWidth":1.3,"opacity":0.85,"clip":true},
"encoding":{"y":{"field":"b","type":"quantitative","scale":{"domain":[145.089,167.41],"nice":false,"zero":false},"axis":null}}},
{"data":{"name":"bands"},"mark":{"type":"line","color":"#089981","strokeWidth":1.3,"opacity":0.85,"clip":true},
"encoding":{"y":{"field":"d","type":"quantitative","scale":{"domain":[145.089,167.41],"nice":false,"zero":false},"axis":null}}},
{"data":{"name":"ema"},"mark":{"type":"line","color":"#2962FF","strokeWidth":3,"clip":true,"opacity":0.9,"interpolate":"monotone"}},
{"data":{"name":"candles"},"mark":{"type":"rule","color":"#1f2329","strokeWidth":1.6},
"encoding":{"y":{"field":"h","type":"quantitative","scale":{"domain":[145.089,167.41],"nice":false,"zero":false},"axis":null},"y2":{"field":"l"}}},
{"data":{"name":"candles"},"mark":{"type":"bar","orient":"vertical","size":5.8,"stroke":"#1f2329","strokeWidth":1.4},
"encoding":{"y":{"field":"o","type":"quantitative","stack":null,"scale":{"domain":[145.089,167.41],"nice":false,"zero":false},"axis":null},"y2":{"field":"c"},
"color":{"condition":{"test":"datum.c>=datum.o","value":"#1F9E8D"},"value":"#EB4D50"}}},
{"data":{"name":"levels"},"transform":[{"filter":"datum.name=='poc'"}],"mark":{"type":"rule","color":"#EF4D4D","strokeWidth":2.8},"encoding":{"x2":{"field":"to"}}},
{"data":{"name":"vp"},"mark":{"type":"rect","fill":"#2962FF","opacity":0.3},
"encoding":{"x2":{"field":"buy"},"y":{"field":"top","type":"quantitative","scale":{"domain":[145.089,167.41],"nice":false,"zero":false},"axis":null},"y2":{"field":"bot"}}},
{"data":{"name":"vp"},"transform":[{"filter":"datum.zone=='va'"}],"mark":{"type":"rect","fill":"#FBC02D","opacity":0.7},
"encoding":{"x":{"field":"buy","type":"quantitative","scale":{"domain":[-0.497,226],"nice":false,"zero":false,"padding":0},"axis":null},"x2":{"field":"sell"},"y":{"field":"top","type":"quantitative","scale":{"domain":[145.089,167.41],"nice":false,"zero":false},"axis":null},"y2":{"field":"bot"}}},
{"data":{"name":"vp"},"transform":[{"filter":"datum.zone=='out'"}],"mark":{"type":"rect","fill":"#D8C060","opacity":0.33},
"encoding":{"x":{"field":"buy","type":"quantitative","scale":{"domain":[-0.497,226],"nice":false,"zero":false,"padding":0},"axis":null},"x2":{"field":"sell"},"y":{"field":"top","type":"quantitative","scale":{"domain":[145.089,167.41],"nice":false,"zero":false},"axis":null},"y2":{"field":"bot"}}},
{"data":{"name":"levels"},"transform":[{"filter":"datum.name=='top'"}],"mark":{"type":"rule","color":"#12BCD4","strokeWidth":2.8,"clip":true},"encoding":{"x2":{"field":"to"}}},
{"data":{"name":"levels"},"transform":[{"filter":"datum.name=='last'"}],"mark":{"type":"rule","color":"#22AB94","strokeWidth":1.4,"strokeDash":[1.5,4],"clip":true},"encoding":{"x2":{"field":"to"}}},
{"data":{"name":"levels"},"transform":[{"filter":"datum.name=='s1'||datum.name=='s2'"}],"mark":{"type":"rule","color":"#0C98A7","strokeWidth":2.8},"encoding":{"x2":{"field":"to"}}},
{"data":{"name":"arrow"},"mark":{"type":"line","color":"#FF2A0A","strokeWidth":3.4,"interpolate":"monotone"}},
{"data":{"values":[{"i":218.0,"p":163.54}]},"mark":{"type":"point","shape":"triangle-up","angle":45,"size":340,"filled":true,"color":"#FF2A0A","opacity":1,"strokeWidth":0}},
{"data":{"name":"boxes"},"mark":{"type":"rect","cornerRadius":3},
"encoding":{"x2":{"field":"to"},"y2":{"field":"p2"},
"fill":{"condition":[{"test":"datum.kind=='cyan'","value":"#12BCD4"},{"test":"datum.kind=='green'","value":"#22A79A"},{"test":"datum.kind=='teal'","value":"#0C98A7"}],"value":"#ffffff"},
"stroke":{"condition":{"test":"datum.kind=='btn'","value":"#E6E8EC"},"value":null}}},
{"data":{"name":"boxtext"},"mark":{"type":"text","fontSize":16.5,"align":"center","baseline":"middle"},
"encoding":{"text":{"field":"label"},
"color":{"condition":[{"test":"datum.kind=='white'","value":"#ffffff"},{"test":"datum.kind=='pale'","value":"#BDE3DD"}],"value":"#131722"}}},
{"data":{"values":[{"i":4.84,"p":166.926,"label":"U.S. Dollar / Japanese Yen · 1D · FXCM"}]},"mark":{"type":"text","fontSize":20.2,"align":"left","baseline":"middle","color":"#131722"},"encoding":{"text":{"field":"label"}}},
{"data":{"values":[{"i":52.27,"p":166.926,"label":"O160.537\u2002 H160.588\u2002 L160.424\u2002 C160.543\u2002 +0.006 (+0.00%)"}]},"mark":{"type":"text","fontSize":17.3,"align":"left","baseline":"middle","color":"#131722"},"encoding":{"text":{"field":"label"}}},
{"data":{"values":[{"i":227.31,"p":166.926,"label":"JPY"}]},"mark":{"type":"text","fontSize":16.5,"align":"left","baseline":"middle","color":"#131722"},"encoding":{"text":{"field":"label"}}},
{"data":{"values":[{"i":235.94,"p":166.926},{"i":2.69,"p":166.16}]},"mark":{"type":"point","shape":"M-1 -.5 L0 .5 L1 -.5","size":64,"filled":false,"color":"#131722","strokeWidth":1.6,"opacity":1}},
{"data":{"values":[{"i":2.3,"p":166.97}]},"mark":{"type":"point","shape":"circle","size":190,"filled":false,"color":"#D9DCE3","strokeWidth":1,"opacity":1}},
{"data":{"values":[{"i":2.0,"p":166.83}]},"mark":{"type":"point","shape":"circle","size":190,"filled":true,"color":"#E5484D","opacity":1,"strokeWidth":0}},
{"data":{"values":[{"i":1.6,"p":166.98}]},"mark":{"type":"point","shape":"circle","size":50,"filled":true,"color":"#3C6FD8","opacity":1,"strokeWidth":0}},
{"data":{"values":[{"i":192.02,"p":145.516}]},"mark":{"type":"point","shape":"circle","size":729,"filled":false,"color":"#9C3FA8","strokeWidth":1.6,"opacity":1}},
{"data":{"values":[{"i":192.02,"p":145.516}]},"mark":{"type":"point","shape":"M.25 -1 L-.6 .15 L-.05 .15 L-.25 1 L.6 -.15 L.05 -.15 Z","size":196,"filled":true,"color":"#9C3FA8","opacity":1,"strokeWidth":0}},
{"data":{"name":"levels"},"transform":[{"filter":"datum.name=='sep'"}],"mark":{"type":"rule","color":"#6A6D78","strokeWidth":2.2},"encoding":{"x2":{"field":"to"}}}
]
},
{
"width":1824.5,"height":185.5,
"resolve":{"axis":{"x":"independent","y":"independent"}},
"encoding":{
"x":{"field":"i","type":"quantitative","scale":{"domain":[-0.497,226],"nice":false,"zero":false,"padding":0},"axis":null},
"y":{"field":"v","type":"quantitative","stack":null,"scale":{"domain":[-1.058,1.65],"nice":false,"zero":false},"axis":null}
},
"layer":[
{"data":{"name":"hist"},"mark":{"type":"bar","orient":"vertical","size":6.8},
"encoding":{
"x":{"field":"i","type":"quantitative","scale":{"domain":[-0.497,226],"nice":false,"zero":false,"padding":0},
"axis":{"orient":"bottom","title":null,"values":[13,36,56,78,99,119,141,163,184,206],"labelExpr":"{13:'Oct',36:'Nov',56:'Dec',78:'2026',99:'Feb',119:'Mar',141:'Apr',163:'May',184:'Jun',206:'Jul'}[datum.value]","grid":false,"ticks":false,"domain":false,"labelOverlap":false,"labelBound":false,"labelFontSize":16.5,"labelColor":"#2a2e39","labelPadding":19,"labelBaseline":"middle","labelFontWeight":{"condition":{"test":"datum.value==78","value":"bold"},"value":"normal"}}},
"y":{"field":"v","type":"quantitative","stack":null,"scale":{"domain":[-1.058,1.65],"nice":false,"zero":false},
"axis":{"orient":"right","title":null,"values":[0,1],"format":".3f","grid":false,"ticks":false,"labelOverlap":false,"labelBound":false,"labelFontSize":16.5,"labelColor":"#2a2e39","labelPadding":13,"domainColor":"#E0E3EB","domainWidth":1.5,"labelAlign":"left"}},
"color":{"field":"s","type":"nominal","legend":null,"scale":{"domain":["g","gp","r","rp"],"range":["#26A69A","#B2DFDB","#FF5252","#FFCDD2"]}}}},
{"data":{"values":[{"i":-0.497,"to":226,"v":0}]},"mark":{"type":"rule","color":"#B2B5BE","strokeWidth":1.4,"strokeDash":[7,7],"clip":true},"encoding":{"x2":{"field":"to"}}},
{"data":{"name":"macd"},"mark":{"type":"line","color":"#2962FF","strokeWidth":1.6,"opacity":0.9,"clip":true}},
{"data":{"name":"signal"},"mark":{"type":"line","color":"#FF6D00","strokeWidth":1.6,"opacity":0.95,"clip":true}},
{"data":{"values":[{"i":-0.25,"to":237.9,"v":-1.058},{"i":-0.25,"to":237.9,"v":-1.606}]},"mark":{"type":"rule","color":"#E9EAEE","strokeWidth":2},"encoding":{"x2":{"field":"to"}}},
{"data":{"values":[{"i":226.03,"v":-1.058,"v2":-1.606}]},"mark":{"type":"rule","color":"#E0E3EB","strokeWidth":1.5},"encoding":{"y2":{"field":"v2"}}},
{"data":{"values":[{"i":228.26,"to":231.57,"v":-0.545,"v2":-0.974}]},"mark":{"type":"rect","fill":"#2A2E39","cornerRadius":5},"encoding":{"x2":{"field":"to"},"y2":{"field":"v2"}}},
{"data":{"values":[{"i":232.28,"to":235.38,"v":-0.56,"v2":-0.965}]},"mark":{"type":"rect","fill":"#ffffff","stroke":"#E6E8EC","cornerRadius":5},"encoding":{"x2":{"field":"to"},"y2":{"field":"v2"}}},
{"data":{"values":[{"i":229.91,"v":-0.759,"label":"A","kind":"white"},{"i":233.83,"v":-0.759,"label":"L","kind":"dark"}]},"mark":{"type":"text","fontSize":16.5,"align":"center","baseline":"middle"},
"encoding":{"text":{"field":"label"},"color":{"condition":{"test":"datum.kind=='white'","value":"#ffffff"},"value":"#131722"}}},
{"data":{"values":[{"i":232,"v":-1.339}]},"mark":{"type":"point","shape":"M-1 0 L-.5 -.82 L.5 -.82 L1 0 L.5 .82 L-.5 .82 Z","size":361,"filled":false,"color":"#131722","strokeWidth":1.5,"opacity":1}},
{"data":{"values":[{"i":232,"v":-1.339}]},"mark":{"type":"point","shape":"circle","size":40,"filled":false,"color":"#131722","strokeWidth":1.5,"opacity":1}},
{"data":{"values":[{"i":3.96,"v":-0.638}]},"mark":{"type":"point","shape":"M-1 -.479 L-.174 -.479 L-.174 .479 L-.587 .479 L-.587 -.066 L-1 -.066 Z M.306 -.314 L.262 -.209 L.157 -.165 L.052 -.209 L.008 -.314 L.052 -.419 L.157 -.463 L.262 -.419 Z M.455 -.479 L1 -.479 L.653 .479 L.174 .479 Z","size":1624,"filled":true,"color":"#000000","opacity":1,"strokeWidth":0}}
]
}
]
}
